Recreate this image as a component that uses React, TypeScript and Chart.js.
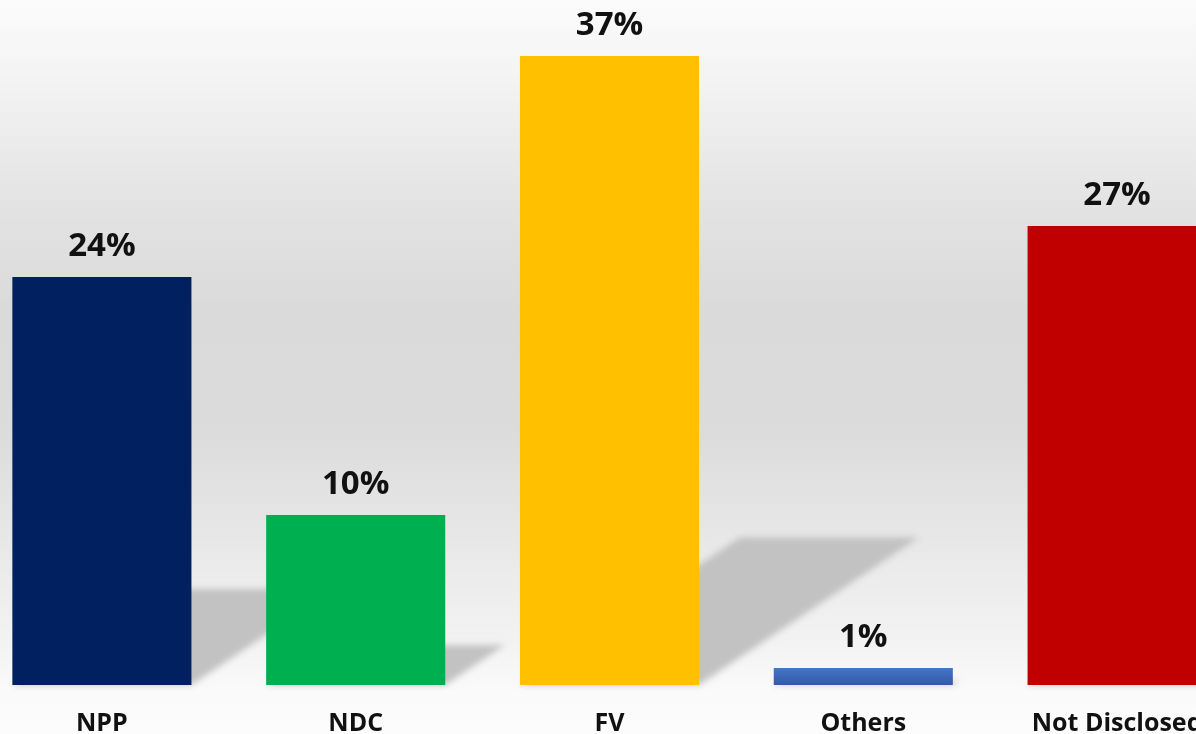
import React, { useEffect, useRef } from "react";
import { Chart, registerables } from "chart.js";

Chart.register(...registerables);

const categories: string[] = ["NPP", "NDC", "FV", "Others", "Not Disclosed"];
const values: number[] = [24, 10, 37, 1, 27];
const barColors: string[] = ["#002060", "#00B050", "#FFC000", "#4472C4", "#C00000"];
const yMax = 40;

const FONT = "'Open Sans', 'Noto Sans', sans-serif";

const backgroundPlugin = {
  id: "bgGradient",
  beforeDraw(chart: any) {
    const { ctx, width, height } = chart;
    const g = ctx.createLinearGradient(0, 0, 0, 734);
    g.addColorStop(0, "#fbfbfb");
    g.addColorStop(0.1, "#f4f4f4");
    g.addColorStop(0.28, "#e3e3e3");
    g.addColorStop(0.42, "#dadada");
    g.addColorStop(0.58, "#dbdbdb");
    g.addColorStop(0.74, "#e8e8e8");
    g.addColorStop(0.88, "#f3f3f3");
    g.addColorStop(0.94, "#fafafa");
    g.addColorStop(1, "#fcfcfc");
    ctx.save();
    ctx.fillStyle = g;
    ctx.fillRect(0, 0, width, height);
    ctx.restore();
  },
};

const shadowPlugin = {
  id: "barShadow",
  beforeDatasetsDraw(chart: any) {
    const { ctx } = chart;
    const meta = chart.getDatasetMeta(0);
    ctx.save();
    ctx.filter = "blur(3px)";
    ctx.fillStyle = "#c2c2c2";
    meta.data.forEach((bar: any) => {
      const h = bar.base - bar.y;
      const left = bar.x - bar.width / 2;
      const right = bar.x + bar.width / 2;
      const dy = h * 0.235;
      const dx = h * 0.35;
      ctx.beginPath();
      ctx.moveTo(left, bar.base);
      ctx.lineTo(right, bar.base);
      ctx.lineTo(right + dx, bar.base - dy);
      ctx.lineTo(left + dx, bar.base - dy);
      ctx.closePath();
      ctx.fill();
    });
    ctx.restore();
  },
};

const valueLabelPlugin = {
  id: "valueLabels",
  afterDatasetsDraw(chart: any) {
    const { ctx } = chart;
    const meta = chart.getDatasetMeta(0);
    ctx.save();
    ctx.font = `bold 33px ${FONT}`;
    ctx.fillStyle = "#111111";
    ctx.textAlign = "center";
    ctx.textBaseline = "alphabetic";
    meta.data.forEach((bar: any, i: number) => {
      ctx.fillText(`${values[i]}%`, bar.x, bar.y - 21);
    });
    ctx.restore();
  },
};

export default function App() {
  const canvasRef = useRef<HTMLCanvasElement | null>(null);

  useEffect(() => {
    const canvas = canvasRef.current;
    if (!canvas) return;
    const chart = new Chart(canvas, {
      type: "bar",
      data: {
        labels: categories,
        datasets: [
          {
            data: values,
            backgroundColor: (context: any) => {
              const i = context.dataIndex;
              if (i === 3) {
                const c = context.chart;
                const ys = c.scales && c.scales.y;
                if (ys && c.chartArea) {
                  const top = ys.getPixelForValue(values[3]);
                  const base = ys.getPixelForValue(0);
                  const g = c.ctx.createLinearGradient(0, top, 0, base);
                  g.addColorStop(0, "#4675C8");
                  g.addColorStop(1, "#3259A6");
                  return g;
                }
              }
              return barColors[i];
            },
            borderWidth: 0,
            barPercentage: 0.9,
            categoryPercentage: 0.784,
          },
        ],
      },
      options: {
        responsive: false,
        animation: false,
        devicePixelRatio: 1,
        layout: { padding: { top: 5, left: 0, right: 0, bottom: 0 } },
        plugins: {
          legend: { display: false },
          tooltip: { enabled: false },
          title: { display: false },
        },
        scales: {
          x: {
            grid: { display: false, drawTicks: false },
            border: { display: false },
            ticks: {
              color: "#111111",
              padding: 24,
              maxRotation: 0,
              autoSkip: false,
              font: { family: FONT, size: 25, weight: "bold", lineHeight: 1.2 },
            },
          },
          y: {
            display: false,
            min: 0,
            max: yMax,
          },
        },
      },
      plugins: [backgroundPlugin, shadowPlugin, valueLabelPlugin],
    });
    return () => chart.destroy();
  }, []);

  return (
    <div style={{ position: "fixed", top: 0, left: 0, right: 0, bottom: 0, overflow: "hidden", background: "#fcfcfc" }}>
      <canvas
        ref={canvasRef}
        width={1269}
        height={763}
        style={{ position: "absolute", left: -25, top: 0, width: 1269, height: 763 }}
      />
    </div>
  );
}
